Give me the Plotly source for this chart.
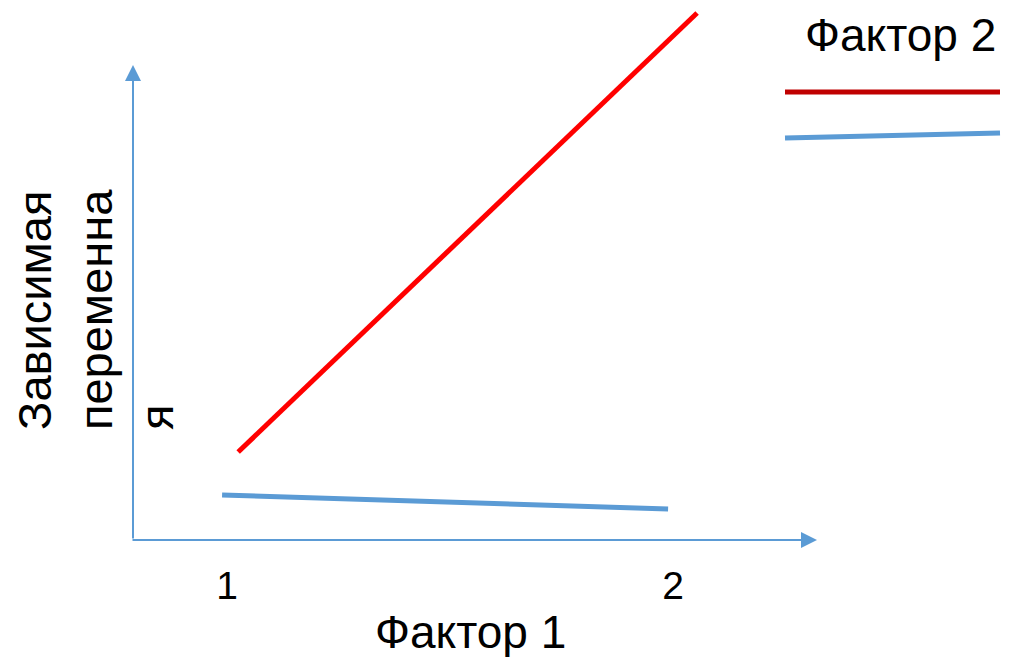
import plotly.graph_objects as go

# Data
factor1_levels = [1, 2]
factor1_labels = ["1", "2"]
red_x = [1.025, 2.054]
red_y = [0.88, 5.27]
blue_x = [0.989, 1.989]
blue_y = [0.45, 0.31]

W, H = 1014, 657
PLOT_B = 540  # pixel row of the x axis (bottom of plot area)
FONT = "Liberation Sans"
AXIS_COLOR = "#5B9BD5"

fig = go.Figure()
fig.add_trace(go.Scatter(x=red_x, y=red_y, mode="lines",
                         line=dict(color="#FF0000", width=5), showlegend=False))
fig.add_trace(go.Scatter(x=blue_x, y=blue_y, mode="lines",
                         line=dict(color=AXIS_COLOR, width=5), showlegend=False))

def px2x(p):
    return 1 + (p - 227) / 446.0

def py2y(p):
    return (PLOT_B - p) / 100.0

def py2paper(p):
    return (PLOT_B - p) / float(PLOT_B)

annotations = [
    # x axis arrow
    dict(x=px2x(817), y=0, ax=px2x(131), ay=0, xref="x", yref="y", axref="x", ayref="y",
         text="", showarrow=True, arrowhead=2, arrowsize=1.6, arrowwidth=2, arrowcolor=AXIS_COLOR),
    # y axis arrow
    dict(x=px2x(133), y=py2y(65), ax=px2x(133), ay=0, xref="x", yref="y", axref="x", ayref="y",
         text="", showarrow=True, arrowhead=2, arrowsize=1.6, arrowwidth=2, arrowcolor=AXIS_COLOR),
    # x title
    dict(x=px2x(470), y=py2paper(632), xref="x", yref="paper", text="Фактор 1", showarrow=False,
         font=dict(family=FONT, size=46, color="black"), xanchor="center", yanchor="middle"),
    # y title
    dict(x=95 / W, y=py2paper(310), xref="paper", yref="paper", text="Зависимая<br>переменна<br>я",
         showarrow=False, textangle=-90, align="left",
         font=dict(family=FONT, size=47, color="black"), xanchor="center", yanchor="middle"),
    # legend title
    dict(x=900 / W, y=py2paper(35), xref="paper", yref="paper", text="Фактор 2", showarrow=False,
         font=dict(family=FONT, size=46, color="black"), xanchor="center", yanchor="middle"),
]

shapes = [
    dict(type="line", xref="paper", yref="paper", x0=785 / W, x1=1000 / W,
         y0=py2paper(92), y1=py2paper(92), line=dict(color="#C00000", width=5)),
    dict(type="line", xref="paper", yref="paper", x0=785 / W, x1=1000 / W,
         y0=py2paper(138), y1=py2paper(133), line=dict(color=AXIS_COLOR, width=5)),
]

fig.update_layout(
    width=W, height=H,
    margin=dict(l=0, r=0, t=0, b=H - PLOT_B, pad=0),
    paper_bgcolor="white", plot_bgcolor="white",
    showlegend=False,
    annotations=annotations, shapes=shapes,
    xaxis=dict(range=[px2x(0), px2x(W)], tickvals=factor1_levels, ticktext=factor1_labels,
               showgrid=False, zeroline=False, showline=False, ticks="",
               tickfont=dict(family=FONT, size=39, color="black"), ticklabelstandoff=19,
               fixedrange=True),
    yaxis=dict(range=[0, PLOT_B / 100.0], showgrid=False, zeroline=False, showline=False,
               showticklabels=False, ticks="", fixedrange=True),
)

fig.write_html("out.html", config={"displayModeBar": False},
               post_script="document.body.style.margin='0';document.body.style.overflow='hidden';")
